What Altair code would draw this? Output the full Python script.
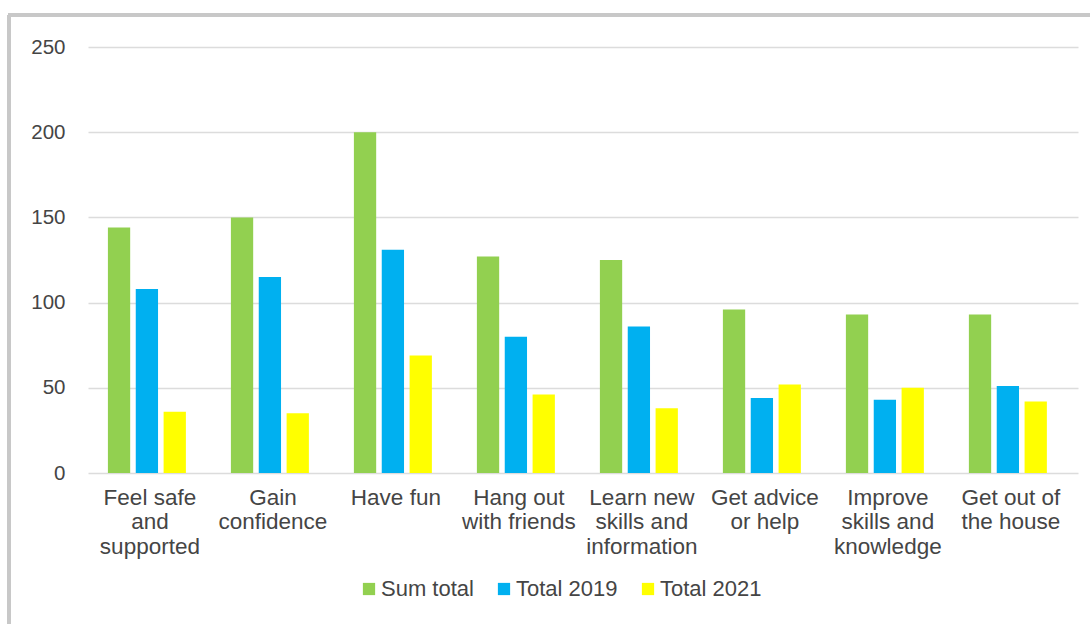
import altair as alt
import pandas as pd

categories = [
    "Feel safe|and|supported",
    "Gain|confidence",
    "Have fun",
    "Hang out|with friends",
    "Learn new|skills and|information",
    "Get advice|or help",
    "Improve|skills and|knowledge",
    "Get out of|the house",
]
series = ["Sum total", "Total 2019", "Total 2021"]
sum_total = [144, 150, 200, 127, 125, 96, 93, 93]
total_2019 = [108, 115, 131, 80, 86, 44, 43, 51]
total_2021 = [36, 35, 69, 46, 38, 52, 50, 42]
colors = ["#92d050", "#00b0f0", "#ffff00"]
y_ticks = [0, 50, 100, 150, 200, 250]

rows = []
for vals, s in zip([sum_total, total_2019, total_2021], series):
    for c, v in zip(categories, vals):
        rows.append({"category": c, "series": s, "value": v})
df = pd.DataFrame(rows)

FONT = "Liberation Sans"
TXT = "#454545"

bars = alt.Chart(df).mark_bar().encode(
    x=alt.X("category:N", sort=categories,
            scale=alt.Scale(paddingInner=0.366, paddingOuter=0.2075, align=0.39),
            axis=alt.Axis(title=None, labelAngle=0, ticks=False, domain=False,
                          labelExpr="split(datum.label, '|')",
                          labelFontSize=22.5, labelFont=FONT, labelColor=TXT,
                          labelPadding=13, labelLineHeight=24.5, labelBaseline="top",
                          labelOffset=3)),
    xOffset=alt.XOffset("series:N", sort=series,
                        scale=alt.Scale(paddingInner=0.2, paddingOuter=0)),
    y=alt.Y("value:Q", scale=alt.Scale(domain=[0, 250], nice=False),
            axis=alt.Axis(title=None, values=y_ticks, ticks=False, domain=False,
                          labelFontSize=20.5, labelFont=FONT, labelColor=TXT,
                          labelPadding=23, gridColor="#dcdcdc", gridWidth=1.5)),
    color=alt.Color("series:N", sort=series,
                    scale=alt.Scale(domain=series, range=colors),
                    legend=alt.Legend(title=None, orient="none", legendX=270, legendY=531,
                                      direction="horizontal", symbolType="square",
                                      symbolSize=150, symbolStrokeWidth=0,
                                      labelFontSize=22, labelFont=FONT, labelColor=TXT,
                                      columnPadding=19, labelOffset=1)),
)

frame_left = alt.Chart(df).mark_rule(color="#c8c8c8", strokeWidth=3).encode(
    x=alt.value(-79), y=alt.value(-32), y2=alt.value(580)
)
frame_top = alt.Chart(df).mark_rule(color="#c8c8c8", strokeWidth=3).encode(
    x=alt.value(-80), x2=alt.value(1005), y=alt.value(-32)
)

chart = alt.layer(bars, frame_left, frame_top).properties(
    width=990, height=426,
    autosize=alt.AutoSizeParams(type="none"),
    padding={"left": 88, "top": 47, "right": 12, "bottom": 151},
    background="white",
).configure_view(stroke=None)

chart.save("out.html", embed_options={"renderer": "svg", "actions": False})
